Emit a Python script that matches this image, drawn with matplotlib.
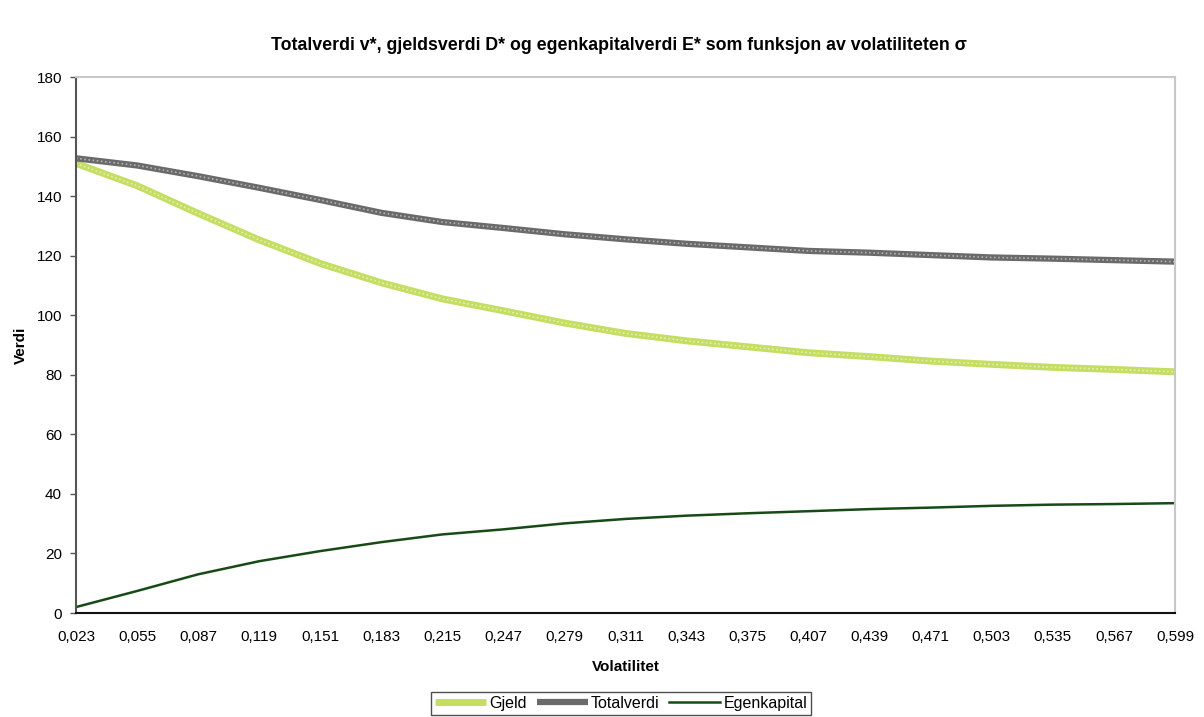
import numpy as np
import matplotlib.pyplot as plt

plt.rcParams['font.family'] = ['Liberation Sans', 'DejaVu Sans']

# volatilitet (x) og verdier lest av figuren
volatilitet = [0.023, 0.055, 0.087, 0.119, 0.151, 0.183, 0.215, 0.247, 0.279, 0.311,
               0.343, 0.375, 0.407, 0.439, 0.471, 0.503, 0.535, 0.567, 0.599]
gjeld = [151.0, 143.5, 134.2, 125.3, 117.4, 110.9, 105.5, 101.5, 97.4, 93.9,
         91.4, 89.4, 87.4, 86.1, 84.6, 83.5, 82.5, 81.8, 81.0]
totalverdi = [152.7, 150.3, 146.7, 142.8, 138.7, 134.4, 131.3, 129.3, 127.2, 125.5,
              124.0, 122.8, 121.6, 121.0, 120.2, 119.4, 119.0, 118.5, 118.0]
egenkapital = [2.0, 7.4, 13.0, 17.4, 20.8, 23.8, 26.4, 28.1, 30.1, 31.6,
               32.7, 33.5, 34.2, 34.9, 35.4, 36.0, 36.4, 36.6, 36.9]
x_labels = [f"{v:.3f}".replace(".", ",") for v in volatilitet]

fig = plt.figure(figsize=(12.04, 7.17), dpi=100)
ax = fig.add_axes([0.0631, 0.145, 0.9128, 0.7476])

# Gjeld - tykk lysegronn linje med monster
ax.plot(volatilitet, gjeld, color='#c4de62', lw=5, solid_capstyle='butt', label='Gjeld')
ax.plot(volatilitet, gjeld, color='#e4f0b0', lw=1.2, ls=(0, (1, 1.5)))
# Totalverdi - tykk gra linje med monster
ax.plot(volatilitet, totalverdi, color='#6a6a6a', lw=4.5, solid_capstyle='butt', label='Totalverdi')
ax.plot(volatilitet, totalverdi, color='#b0b0b0', lw=1.2, ls=(0, (1, 1.5)))
# Egenkapital
ax.plot(volatilitet, egenkapital, color='#174a17', lw=1.8, label='Egenkapital')

ax.set_xlim(0.023, 0.599)
ax.set_ylim(0, 180)
ax.set_xticks(volatilitet)
ax.set_xticklabels(x_labels, fontsize=11)
ax.set_yticks(np.arange(0, 181, 20))
ax.tick_params(axis='y', labelsize=11, length=4, width=1, color='#555555', pad=6)
ax.tick_params(axis='x', length=0, pad=12)

for side in ['top', 'right']:
    ax.spines[side].set_color('#c8c8c8')
    ax.spines[side].set_linewidth(1.5)
ax.spines['left'].set_color('#555555')
ax.spines['left'].set_linewidth(1.5)
ax.spines['bottom'].set_color('#111111')
ax.spines['bottom'].set_linewidth(1.5)

ax.set_xlabel('Volatilitet', fontsize=11, fontweight='bold', labelpad=12)
ax.set_ylabel('Verdi', fontsize=11, fontweight='bold', labelpad=6)

fig.text(0.514, 1 - 46 / 717,
         'Totalverdi v*, gjeldsverdi D* og egenkapitalverdi E* som funksjon av volatiliteten σ',
         ha='center', va='center', fontsize=12.8, fontweight='bold')

handles = [ax.lines[0], ax.lines[2], ax.lines[4]]
leg = fig.legend(handles, ['Gjeld', 'Totalverdi', 'Egenkapital'],
                 loc='upper center', bbox_to_anchor=(0.516, 1 - 692 / 717),
                 ncol=3, fontsize=11.5, frameon=True, fancybox=False,
                 handlelength=3.2, handletextpad=0.2, columnspacing=0.6,
                 borderpad=0.25, borderaxespad=0)
leg.get_frame().set_edgecolor('#222222')
leg.get_frame().set_linewidth(1)

fig.savefig('out.png', dpi=100)
